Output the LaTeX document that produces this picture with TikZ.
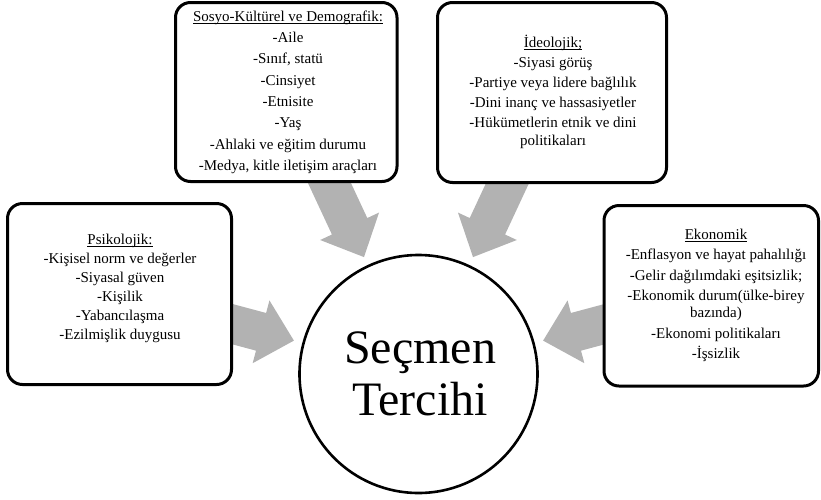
\documentclass[tikz,border=0pt]{standalone}
\usepackage{fontspec}
\setmainfont{Liberation Serif}
\newcommand\ulin[1]{\setbox0=\hbox{#1}\rlap{\rule[-2.3pt]{\wd0}{0.8pt}}\box0}
\newcommand\fs{\rule{0pt}{12pt}}
\definecolor{arrowgray}{RGB}{178,178,178}
\begin{document}
\begin{tikzpicture}[x=1pt,y=1pt,
  factorbox/.style={draw=black, line width=3pt, fill=white, rounded corners=15pt,
    rectangle, inner sep=0pt},
  factortext/.style={inner sep=0pt, anchor=north, align=center},
  blockarrow/.style={fill=arrowgray, draw=none}]
\useasboundingbox (0,0) rectangle (821,-499);
% central circle
\node[draw=black, line width=2.6pt, circle, minimum size=238pt, inner sep=0pt] (c) at (418.5,-374) {};
\node[inner sep=0pt, anchor=north, align=center, font=\fontsize{48}{52}\selectfont] (ct) at (420,-323) {\rule{0pt}{40pt}Seçmen\\Tercihi};
% block arrows pointing to the circle centre
\foreach \ang/\nm in {115/a1, 65/a2, 165/a3, 15/a4}{
  \begin{scope}[shift={(c.center)}, rotate=\ang]
    \fill[blockarrow] (129,0) -- (163,32.5) -- (163,19.5) -- (232,19.5)
      -- (232,-19.5) -- (163,-19.5) -- (163,-32.5) -- cycle;
  \end{scope}
}
% boxes
\node[factorbox, minimum width=221.5pt, minimum height=179pt] (sosyo) at (286.25,-92) {};
\node[factorbox, minimum width=229pt, minimum height=180pt] (ideo) at (552,-92.5) {};
\node[factorbox, minimum width=224pt, minimum height=181pt] (psiko) at (119.5,-294) {};
\node[factorbox, minimum width=214.5pt, minimum height=180.5pt] (eko) at (711.25,-295.75) {};
% texts
\node[factortext, font=\fontsize{15}{21.3}\selectfont] (sosyot) at (288,-9)
  {\fs\ulin{Sosyo-Kültürel ve Demografik:}\\-Aile\\-Sınıf, statü\\-Cinsiyet\\-Etnisite\\-Yaş\\-Ahlaki ve eğitim durumu\\-Medya, kitle iletişim araçları};
\node[factortext, font=\fontsize{15}{18}\selectfont] (ideot) at (553,-35)
  {\fs\ulin{İdeolojik;}\\[2pt]-Siyasi görüş\\[2pt]-Partiye veya lidere bağlılık\\[2pt]-Dini inanç ve hassasiyetler\\[2pt]-Hükümetlerin etnik ve dini\\politikaları};
\node[factortext, font=\fontsize{15}{19}\selectfont] (psikot) at (120,-232)
  {\fs\ulin{Psikolojik:}\\-Kişisel norm ve değerler\\-Siyasal güven\\-Kişilik\\-Yabancılaşma\\-Ezilmişlik duygusu};
\node[factortext, font=\fontsize{15}{17}\selectfont] (ekot) at (716,-227)
  {\fs\ulin{Ekonomik}\\[3.5pt]-Enflasyon ve hayat pahalılığı\\[3.5pt]-Gelir dağılımdaki eşitsizlik;\\[3.5pt]-Ekonomik durum(ülke-birey\\bazında)\\[3.5pt]-Ekonomi politikaları\\[3.5pt]-İşsizlik};
\end{tikzpicture}
\end{document}
